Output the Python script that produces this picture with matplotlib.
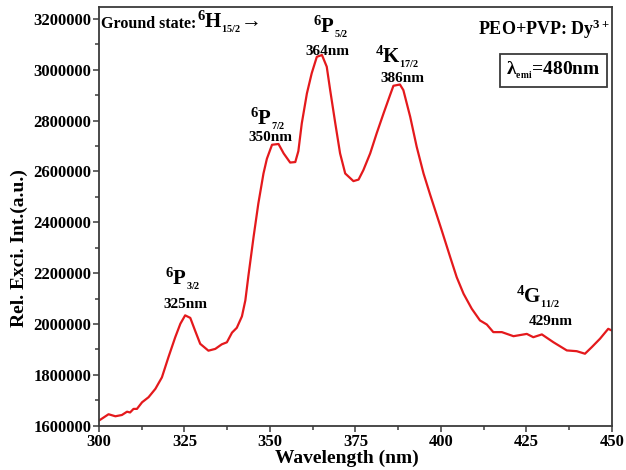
import matplotlib
matplotlib.use("Agg")
import matplotlib.pyplot as plt
from matplotlib.ticker import MultipleLocator

# excitation spectrum (nm, counts)
wavelength = [300.0, 302.8, 304.8, 306.7, 308.2, 309.1, 310.1, 311.1, 312.6, 314.5,
              316.5, 318.4, 320.3, 322.3, 323.8, 325.2, 326.7, 328.1, 329.6, 332.0,
              334.0, 335.9, 337.4, 338.9, 340.3, 341.8, 342.8, 343.7, 345.2, 346.6,
              348.1, 349.1, 350.6, 352.5, 354.0, 355.9, 357.4, 358.3, 359.3, 360.8,
              362.2, 363.7, 365.2, 366.6, 367.6, 369.1, 370.5, 372.0, 374.4, 375.9,
              377.3, 379.3, 381.2, 383.2, 385.1, 386.1, 388.0, 389.0, 391.0, 392.9,
              394.9, 396.8, 400.2, 402.7, 404.6, 406.6, 409.0, 411.4, 413.4,
              415.3, 417.8, 421.2, 425.1, 427.0, 429.5, 432.9, 436.8, 439.7, 442.1,
              444.1, 446.5, 448.9, 450.0]
intensity_k = [1620, 1645, 1637, 1642, 1655, 1652, 1666, 1666, 1692, 1712,
               1745, 1790, 1869, 1948, 2001, 2034, 2024, 1974, 1922, 1895,
               1902, 1920, 1928, 1966, 1985, 2030, 2093, 2190, 2342, 2474,
               2592, 2650, 2705, 2708, 2671, 2635, 2637, 2680, 2789, 2907,
               2986, 3051, 3058, 3012, 2920, 2789, 2671, 2592, 2562, 2568,
               2605, 2671, 2750, 2828, 2900, 2937, 2942, 2920, 2815, 2697,
               2592, 2510, 2369, 2263, 2184, 2119, 2060, 2014, 1998,
               1968, 1968, 1952, 1961, 1948, 1959, 1928, 1896, 1893, 1883,
               1909, 1942, 1981, 1974]
intensity = [v * 1000 for v in intensity_k]

# transition labels: (level text, x, y), (peak text, x, y)
levels = [("$^{6}$P$_{_{3/2}}$", 324.4, 2154000),
          ("$^{6}$P$_{_{7/2}}$", 349.5, 2784000),
          ("$^{6}$P$_{_{5/2}}$", 367.9, 3146000),
          ("$^{4}$K$_{_{17/2}}$", 387.2, 3028000),
          ("$^{4}$G$_{_{11/2}}$", 428.5, 2083000)]
peaks = [("325nm", 325.4, 2063000),
         ("350nm", 350.2, 2721000),
         ("364nm", 366.9, 3059000),
         ("386nm", 388.8, 2953000),
         ("429nm", 432.0, 1996000)]

plt.rcParams['font.family'] = ['Liberation Serif', 'DejaVu Serif']
plt.rcParams['font.weight'] = 'bold'
plt.rcParams['mathtext.fontset'] = 'custom'
plt.rcParams['mathtext.rm'] = 'Liberation Serif:bold'
plt.rcParams['mathtext.it'] = 'Liberation Serif:bold'
plt.rcParams['mathtext.bf'] = 'Liberation Serif:bold'

edge = '#3a3a3a'

fig = plt.figure(figsize=(6.26, 4.70), dpi=100)
ax = fig.add_axes([0.1581, 0.0943, 0.8195, 0.8898])

ax.plot(wavelength, intensity, color='#e4191c', lw=1.6)

ax.set_xlim(300, 450)
ax.set_ylim(1600000, 3245000)
ax.xaxis.set_major_locator(MultipleLocator(25))
ax.xaxis.set_minor_locator(MultipleLocator(12.5))
ax.yaxis.set_major_locator(MultipleLocator(200000))
ax.yaxis.set_minor_locator(MultipleLocator(100000))
ax.ticklabel_format(axis='y', style='plain', useOffset=False)

for s in ax.spines.values():
    s.set_color(edge)
    s.set_linewidth(1.3)
ax.tick_params(which='both', direction='out', color=edge, width=1.1,
               top=False, right=False, labelsize=12)
ax.tick_params(which='major', length=4.5)
ax.tick_params(which='minor', length=3)
ax.tick_params(axis='y', pad=1)
ax.tick_params(axis='x', pad=1.5)
for lab in ax.get_xticklabels() + ax.get_yticklabels():
    lab.set_fontweight('bold')

ax.set_xlabel("Wavelength (nm)", fontsize=14, fontweight='bold')
ax.xaxis.set_label_coords(0.483, -0.058)
ax.set_ylabel("Rel. Exci. Int.(a.u.)", fontsize=14, fontweight='bold')
ax.yaxis.set_label_coords(-0.138, 0.425)

for txt, x, y in levels:
    ax.text(x, y, txt, fontsize=15, fontweight='bold', ha='center', va='baseline')
for txt, x, y in peaks:
    ax.text(x, y, txt, fontsize=11, fontweight='bold', ha='center', va='baseline')

ax.text(0.003, 0.952, "Ground state:", transform=ax.transAxes, fontsize=11.5,
        fontweight='bold', ha='left', va='baseline')
ax.text(0.192, 0.952, "$^{6}$H$_{_{15/2}}$\u2192", transform=ax.transAxes, fontsize=15,
        fontweight='bold', ha='left', va='baseline')

ax.text(0.996, 0.934, "PEO+PVP: Dy$^{3+}$", transform=ax.transAxes, fontsize=13,
        fontweight='bold', ha='right', va='baseline')
ax.text(0.886, 0.849, "\u03bb$_{_{emi}}$=480nm", transform=ax.transAxes, fontsize=14,
        fontweight='bold', ha='center', va='center',
        bbox=dict(boxstyle='square,pad=0.3', fc='white', ec=edge, lw=1.3))

fig.savefig("out.png", dpi=100)
